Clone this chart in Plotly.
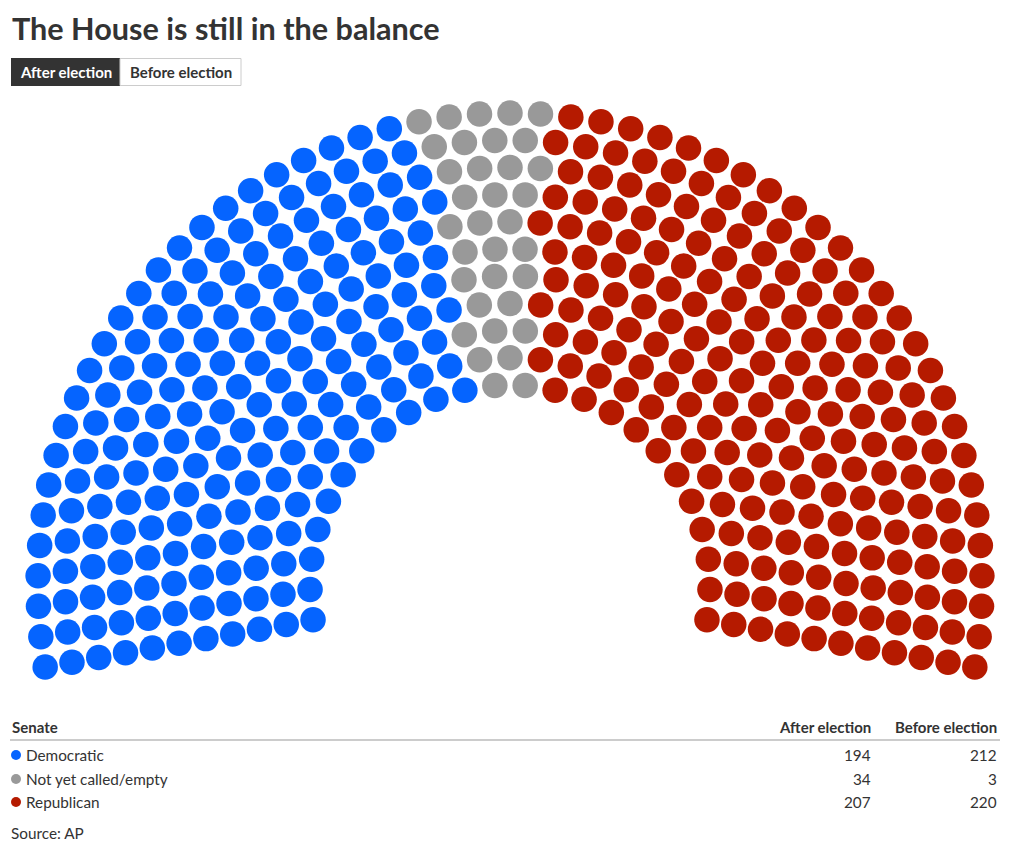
import math
import plotly.graph_objects as go

# ---- data ----
parties = ["Democratic", "Not yet called/empty", "Republican"]
after_election = [194, 34, 207]
before_election = [212, 3, 220]
party_colors = ["#0564ff", "#999999", "#b51a00"]
title_text = "The House is still in the balance"
table_header = ["Senate", "After election", "Before election"]
source_text = "Source: AP"

FONT = "Lato"
TEXT = "#333333"

# ---- parliament layout (computed from seat counts) ----
total = sum(after_election)
n_rows = 11
cx, cy = 510.0, 585.0
r_in, r_out = 200.0, 472.0
ext = math.radians(10)  # arc extends 10 deg below horizontal each side
a_start, a_end = math.pi + ext, -ext
span = a_start - a_end
radii = [r_in + i * (r_out - r_in) / (n_rows - 1) for i in range(n_rows)]
# seats per row proportional to radius
s = span * sum(radii) / (total - n_rows)
raw = [span * r / s for r in radii]
counts = [int(round(v)) + 1 for v in raw]
diff = total - sum(counts)
order = sorted(range(n_rows), key=lambda i: -(raw[i] - round(raw[i])))
k = 0
while diff != 0:
    i = order[k % n_rows]
    counts[i] += 1 if diff > 0 else -1
    diff += -1 if diff > 0 else 1
    k += 1

seats = []
for i, (r, n) in enumerate(zip(radii, counts)):
    for j in range(n):
        a = a_start - span * j / (n - 1)
        seats.append((round(a, 9), r, cx + r * math.cos(a), cy - r * math.sin(a)))
seats.sort(key=lambda t: (-t[0], t[1]))

fig = go.Figure()
start = 0
for name, cnt, col in zip(parties, after_election, party_colors):
    grp = seats[start:start + cnt]
    start += cnt
    fig.add_trace(go.Scatter(
        x=[g[2] for g in grp], y=[g[3] for g in grp], mode="markers",
        marker=dict(size=25.5, color=col, line=dict(width=0)),
        name=name, hovertemplate=name + "<extra></extra>", showlegend=False))

ann = []
# title
ann.append(dict(x=10, y=28, text="<b>" + title_text + "</b>", xanchor="left", yanchor="middle",
                font=dict(family=FONT, size=30.6, color=TEXT), showarrow=False))
# buttons
shapes = [
    dict(type="rect", x0=11, x1=120, y0=58, y1=86, fillcolor="#333333", line=dict(width=0), layer="below"),
    dict(type="rect", x0=120, x1=241, y0=58.5, y1=85.5, fillcolor="white", line=dict(color="#cccccc", width=1), layer="below"),
    dict(type="line", x0=10, x1=1000, y0=740, y1=740, line=dict(color="#999999", width=1)),
]
ann.append(dict(x=65.5, y=72, text="<b>After election</b>", xanchor="center", yanchor="middle",
                font=dict(family=FONT, size=15, color="white"), showarrow=False))
ann.append(dict(x=180.5, y=72, text="<b>Before election</b>", xanchor="center", yanchor="middle",
                font=dict(family=FONT, size=15, color=TEXT), showarrow=False))
# table header
ann.append(dict(x=10, y=727, text="<b>" + table_header[0] + "</b>", xanchor="left", yanchor="middle",
                font=dict(family=FONT, size=15, color=TEXT), showarrow=False))
ann.append(dict(x=873, y=727, text="<b>" + table_header[1] + "</b>", xanchor="right", yanchor="middle",
                font=dict(family=FONT, size=15, color=TEXT), showarrow=False))
ann.append(dict(x=999, y=727, text="<b>" + table_header[2] + "</b>", xanchor="right", yanchor="middle",
                font=dict(family=FONT, size=15, color=TEXT), showarrow=False))
row_y = [755, 779, 802]
for name, a, b, col, yy in zip(parties, after_election, before_election, party_colors, row_y):
    shapes.append(dict(type="circle", x0=11, x1=21, y0=yy - 5, y1=yy + 5, fillcolor=col, line=dict(width=0)))
    ann.append(dict(x=24, y=yy, text=name, xanchor="left", yanchor="middle",
                    font=dict(family=FONT, size=15.3, color=TEXT), showarrow=False))
    ann.append(dict(x=873, y=yy, text=str(a), xanchor="right", yanchor="middle",
                    font=dict(family=FONT, size=15.3, color=TEXT), showarrow=False))
    ann.append(dict(x=999, y=yy, text=str(b), xanchor="right", yanchor="middle",
                    font=dict(family=FONT, size=15.3, color=TEXT), showarrow=False))
ann.append(dict(x=9, y=833, text=source_text, xanchor="left", yanchor="middle",
                font=dict(family=FONT, size=15.3, color=TEXT), showarrow=False))

fig.update_layout(
    width=1020, height=855, autosize=False,
    margin=dict(l=0, r=0, t=0, b=0),
    paper_bgcolor="white", plot_bgcolor="white",
    xaxis=dict(range=[0, 1020], visible=False, fixedrange=True),
    yaxis=dict(range=[855, 0], visible=False, fixedrange=True),
    annotations=ann, shapes=shapes,
)
fig.write_html("out.html", config={"displayModeBar": False})
